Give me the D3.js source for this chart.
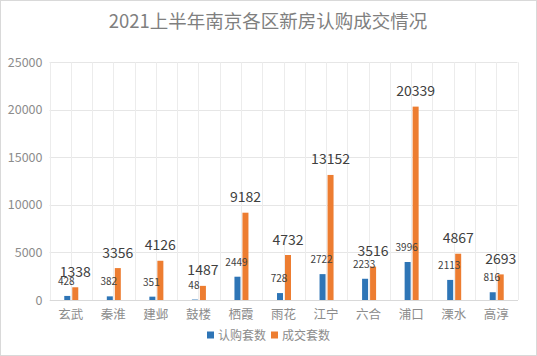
<!DOCTYPE html>
<html><head><meta charset="utf-8">
<script src="https://cdn.jsdelivr.net/npm/d3@7"></script>
<style>body{margin:0;background:#fff}svg{display:block}text{font-family:"Microsoft YaHei","Noto Sans CJK SC",sans-serif}</style>
</head><body><svg id="c" width="537" height="356"></svg>
<script>
const title = "2021上半年南京各区新房认购成交情况";
const categories = ["玄武","秦淮","建邺","鼓楼","栖霞","雨花","江宁","六合","浦口","溧水","高淳"];
const seriesNames = ["认购套数","成交套数"];
const subscribed = [428,382,351,48,2449,728,2722,2233,3996,2113,816];
const closed = [1338,3356,4126,1487,9182,4732,13152,3516,20339,4867,2693];
const yTicks = [0,5000,10000,15000,20000,25000];
const colors = ["#2e75b6","#ed7d31"];

(function(){
const svg = d3.select("#c");
const W = 537, H = 356;
const pLeft = 49.5, pRight = 517.5, pTop = 62.3, pBottom = 300;

svg.append("rect").attr("x",0.5).attr("y",0.5).attr("width",W-1).attr("height",H-1)
  .attr("fill","#fff").attr("stroke","#d9d9d9");

svg.append("text").attr("x",268).attr("y",28).attr("text-anchor","middle")
  .attr("font-size",18.5).attr("fill","#7f7f7f").text(title);

const x = d3.scaleBand().domain(categories).range([pLeft,pRight]).padding(0);
const y = d3.scaleLinear().domain([0,25000]).range([pBottom,pTop]);
const bw = x.bandwidth();
const xs = d3.scaleBand().domain(seriesNames).range([bw/2-6.5, bw/2+7.5]).paddingInner(0.25).paddingOuter(0);

const g = svg.append("g");
yTicks.forEach(t=>{
  g.append("line").attr("x1",pLeft).attr("x2",pRight).attr("y1",Math.round(y(t))+0.5).attr("y2",Math.round(y(t))+0.5)
   .attr("stroke", "#e6e6e6").attr("stroke-width",1);
});
categories.forEach((c,i)=>{
  [x(c), x(c)+bw/2].forEach(v=>g.append("line").attr("x1",Math.round(v)+0.5).attr("x2",Math.round(v)+0.5).attr("y1",pTop).attr("y2",pBottom)
     .attr("stroke","#ececec"));
});
g.append("line").attr("x1",Math.round(pRight)+0.5).attr("x2",Math.round(pRight)+0.5).attr("y1",pTop).attr("y2",pBottom).attr("stroke","#ececec");

const yAxis = svg.append("g").attr("transform",`translate(${pLeft},0)`)
  .call(d3.axisLeft(y).tickValues(yTicks).tickSize(0).tickPadding(7).tickFormat(d3.format("d")));
yAxis.select(".domain").remove();
yAxis.selectAll("text").attr("font-size",12.5).attr("fill","#8c8c8c").style("font-family",'"Microsoft YaHei","Noto Sans CJK SC",sans-serif');

const xAxis = svg.append("g").attr("transform",`translate(0,${pBottom})`)
  .call(d3.axisBottom(x).tickSize(0).tickPadding(10));
xAxis.select(".domain").attr("stroke","#d9d9d9");
xAxis.selectAll("text").attr("font-size",12.5).attr("fill","#8c8c8c").style("font-family",'"Noto Sans CJK SC",sans-serif');

[subscribed, closed].forEach((vals,si)=>{
  svg.append("g").selectAll("rect").data(vals).join("rect")
    .attr("x",(d,i)=>x(categories[i])+xs(seriesNames[si]))
    .attr("width",xs.bandwidth())
    .attr("y",d=>y(d)).attr("height",d=>pBottom-y(d))
    .attr("fill",colors[si]);
});
svg.append("g").selectAll("text").data(subscribed).join("text")
  .attr("x",(d,i)=>x(categories[i])+xs(seriesNames[0])+xs.bandwidth()/2 - 1)
  .attr("y",d=>y(d)-11).attr("text-anchor","middle")
  .attr("font-size",10).attr("fill","#404040").text(d=>d);
svg.append("g").selectAll("text").data(closed).join("text")
  .attr("x",(d,i)=>x(categories[i])+xs(seriesNames[1])+xs.bandwidth()/2)
  .attr("y",d=>y(d)-10.5).attr("text-anchor","middle")
  .attr("font-size",14).attr("fill","#404040").text(d=>d);

const lg = svg.append("g");
[{x:207,name:seriesNames[0],c:colors[0]},{x:271,name:seriesNames[1],c:colors[1]}].forEach(it=>{
  lg.append("rect").attr("x",it.x).attr("y",331.5).attr("width",7).attr("height",7).attr("fill",it.c);
  lg.append("text").attr("x",it.x+11).attr("y",340).attr("font-size",12).attr("fill","#8c8c8c").text(it.name);
});
})();
</script></body></html>
